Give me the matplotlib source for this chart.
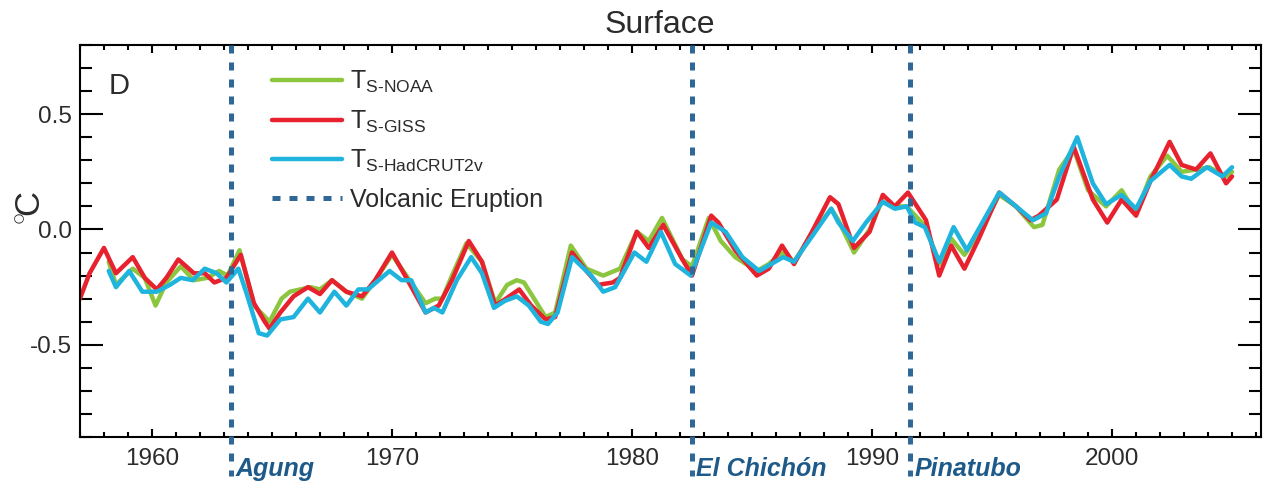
import matplotlib
matplotlib.use("Agg")
import matplotlib.pyplot as plt
from matplotlib.ticker import MultipleLocator

plt.rcParams["font.family"] = ["Liberation Sans", "DejaVu Sans"]
plt.rcParams["mathtext.fontset"] = "custom"
plt.rcParams["mathtext.rm"] = "Liberation Sans"
plt.rcParams["mathtext.it"] = "Liberation Sans:italic"
plt.rcParams["mathtext.bf"] = "Liberation Sans:bold"

# Surface temperature anomalies (deg C)
giss_year = [1957.0, 1957.4, 1958.0, 1958.5, 1959.2, 1959.7, 1960.2, 1960.6, 1961.1, 1961.75,
             1962.2, 1962.6, 1963.1, 1963.7, 1964.25, 1964.7, 1964.9, 1965.35, 1965.9, 1966.5,
             1967.0, 1967.5, 1968.1, 1968.75, 1969.3, 1970.0, 1970.6, 1971.4, 1971.95, 1972.5,
             1973.2, 1973.75, 1974.3, 1974.75, 1975.3, 1975.8, 1976.4, 1976.8, 1977.5, 1978.1,
             1978.6, 1979.2, 1979.5, 1980.2, 1980.7, 1981.3, 1982.1, 1982.5, 1983.3, 1983.6,
             1984.3, 1985.2, 1985.7, 1986.25, 1986.75, 1987.5, 1988.25, 1988.6, 1989.25, 1989.9,
             1990.45, 1990.95, 1991.5, 1992.25, 1992.8, 1993.3, 1993.85, 1994.45, 1995.3, 1996.0,
             1996.6, 1996.95, 1997.7, 1998.4, 1999.2, 1999.8, 2000.4, 2001.0, 2001.6, 2002.4,
             2002.9, 2003.5, 2004.1, 2004.75, 2005.0]
giss_temp = [-0.30, -0.19, -0.08, -0.19, -0.12, -0.21, -0.26, -0.21, -0.13, -0.19,
             -0.19, -0.23, -0.21, -0.11, -0.32, -0.40, -0.43, -0.36, -0.29, -0.25,
             -0.28, -0.22, -0.27, -0.29, -0.22, -0.10, -0.21, -0.36, -0.33, -0.22,
             -0.05, -0.14, -0.33, -0.30, -0.26, -0.33, -0.39, -0.38, -0.10, -0.18,
             -0.24, -0.23, -0.21, -0.01, -0.08, 0.02, -0.13, -0.20, 0.06, 0.03,
             -0.09, -0.20, -0.17, -0.07, -0.15, -0.01, 0.14, 0.11, -0.08, -0.01,
             0.15, 0.10, 0.16, 0.04, -0.20, -0.07, -0.17, -0.04, 0.16, 0.10,
             0.04, 0.06, 0.13, 0.36, 0.13, 0.03, 0.13, 0.06, 0.21, 0.38,
             0.28, 0.26, 0.33, 0.20, 0.23]

noaa_year = [1958.2, 1958.5, 1959.2, 1959.7, 1960.15, 1960.6, 1961.2, 1961.75, 1962.3, 1962.8,
             1963.15, 1963.65, 1964.25, 1964.9, 1965.4, 1965.75, 1966.6, 1967.0, 1967.5, 1968.1,
             1968.75, 1969.3, 1970.0, 1970.6, 1971.4, 1971.8, 1972.1, 1972.5, 1973.1, 1973.75,
             1974.3, 1974.8, 1975.2, 1975.5, 1976.4, 1976.8, 1977.45, 1978.1, 1978.8, 1979.5,
             1980.2, 1980.7, 1981.25, 1982.1, 1982.5, 1983.2, 1983.7, 1984.3, 1985.2, 1985.7,
             1986.25, 1986.75, 1987.5, 1988.3, 1988.6, 1989.25, 1989.9, 1990.4, 1990.9, 1991.45,
             1992.25, 1992.8, 1993.3, 1993.85, 1994.45, 1995.3, 1996.0, 1996.75, 1997.1, 1997.8,
             1998.4, 1999.0, 1999.75, 2000.4, 2001.0, 2001.6, 2002.3, 2002.9, 2003.5, 2004.05,
             2004.75, 2005.0]
noaa_temp = [-0.14, -0.24, -0.17, -0.21, -0.33, -0.23, -0.16, -0.22, -0.21, -0.18,
             -0.20, -0.09, -0.33, -0.40, -0.30, -0.27, -0.25, -0.26, -0.22, -0.27,
             -0.30, -0.22, -0.11, -0.20, -0.32, -0.30, -0.30, -0.20, -0.06, -0.14,
             -0.32, -0.24, -0.22, -0.23, -0.38, -0.36, -0.07, -0.17, -0.20, -0.17,
             -0.01, -0.05, 0.05, -0.13, -0.16, 0.05, -0.05, -0.12, -0.18, -0.15,
             -0.10, -0.14, -0.02, 0.09, 0.04, -0.10, 0.00, 0.12, 0.10, 0.10,
             0.01, -0.15, -0.04, -0.11, -0.02, 0.15, 0.10, 0.01, 0.02, 0.26,
             0.35, 0.17, 0.10, 0.17, 0.07, 0.23, 0.32, 0.25, 0.26, 0.27,
             0.23, 0.25]

hadcrut_year = [1958.2, 1958.5, 1959.05, 1959.6, 1960.2, 1960.75, 1961.2, 1961.7, 1962.2, 1962.7,
                1963.1, 1963.6, 1963.95, 1964.45, 1964.8, 1965.35, 1965.9, 1966.5, 1967.0, 1967.6,
                1968.1, 1968.6, 1969.0, 1969.9, 1970.4, 1970.8, 1971.4, 1971.75, 1972.1, 1972.7,
                1973.3, 1973.75, 1974.25, 1974.7, 1975.2, 1975.7, 1976.2, 1976.5, 1976.9, 1977.5,
                1978.3, 1978.8, 1979.3, 1980.1, 1980.6, 1981.2, 1981.8, 1982.45, 1983.3, 1983.9,
                1984.6, 1985.3, 1985.8, 1986.3, 1986.75, 1987.5, 1988.3, 1988.6, 1989.2, 1989.75,
                1990.45, 1990.95, 1991.45, 1991.8, 1992.2, 1992.8, 1993.4, 1993.95, 1995.3, 1996.0,
                1996.7, 1997.25, 1997.8, 1998.55, 1999.2, 1999.75, 2000.4, 2001.0, 2001.6, 2002.4,
                2002.9, 2003.3, 2003.95, 2004.6, 2005.0]
hadcrut_temp = [-0.18, -0.25, -0.18, -0.27, -0.27, -0.24, -0.21, -0.22, -0.17, -0.19,
                -0.23, -0.17, -0.28, -0.45, -0.46, -0.39, -0.38, -0.30, -0.36, -0.27,
                -0.33, -0.26, -0.26, -0.18, -0.22, -0.22, -0.36, -0.34, -0.36, -0.22,
                -0.12, -0.19, -0.34, -0.31, -0.29, -0.33, -0.40, -0.41, -0.36, -0.12,
                -0.20, -0.27, -0.25, -0.10, -0.14, -0.01, -0.15, -0.20, 0.03, -0.01,
                -0.12, -0.18, -0.15, -0.12, -0.14, -0.03, 0.09, 0.03, -0.05, 0.03,
                0.12, 0.09, 0.10, 0.03, 0.01, -0.14, 0.01, -0.09, 0.16, 0.10,
                0.04, 0.07, 0.23, 0.40, 0.20, 0.11, 0.15, 0.09, 0.21, 0.28,
                0.23, 0.22, 0.27, 0.23, 0.27]

volcano_names = ["Agung", "El Chichón", "Pinatubo"]
volcano_years = [1963.3, 1982.5, 1991.6]

GREEN = "#8cc63f"
RED = "#e8212e"
CYAN = "#1fb4de"
VOLC = "#2f6796"
TEXT = "#2b2b2b"

fig = plt.figure(figsize=(12.63, 4.82), dpi=100)
ax = fig.add_axes([0.0633, 0.0934, 0.935, 0.8132])

line_kw = dict(lw=3.2, solid_joinstyle="round", solid_capstyle="round")
ax.plot(noaa_year, noaa_temp, color=GREEN, label=r"T$_{\mathregular{S‐NOAA}}$", **line_kw)
ax.plot(giss_year, giss_temp, color=RED, label=r"T$_{\mathregular{S‐GISS}}$", **line_kw)
ax.plot(hadcrut_year, hadcrut_temp, color=CYAN,
        label=r"T$_{\mathregular{S‐HadCRUT2v}}$", **line_kw)

xt = ax.get_xaxis_transform()
for i, (name, yr) in enumerate(zip(volcano_names, volcano_years)):
    ax.plot([yr, yr], [1.0, -0.1], transform=xt, clip_on=False, color=VOLC, lw=3.6,
            dashes=(1.6, 1.8), dash_capstyle="butt",
            label="Volcanic Eruption" if i == 0 else None, zorder=4)
    ax.text(yr + 0.17, -0.05, name, transform=xt, ha="left", va="top", fontsize=18,
            fontweight="bold", style="italic", color="#1d5a8a")

ax.set_xlim(1957, 2006.2)
ax.set_ylim(-0.9, 0.8)
ax.xaxis.set_major_locator(MultipleLocator(10))
ax.xaxis.set_minor_locator(MultipleLocator(1))
ax.yaxis.set_major_locator(MultipleLocator(0.5))
ax.yaxis.set_minor_locator(MultipleLocator(0.1))
ax.yaxis.set_major_formatter(plt.FuncFormatter(lambda v, p: f"{v:.1f}"))

ax.tick_params(axis="both", which="both", direction="in", top=True, right=True,
               width=1.5, colors="black", labelcolor=TEXT, labelsize=17.5)
ax.tick_params(axis="y", which="major", length=16.5, pad=6)
ax.tick_params(axis="y", which="minor", length=8.5)
ax.tick_params(axis="x", which="major", length=6, pad=8)
ax.tick_params(axis="x", which="minor", length=3.5)
for s in ax.spines.values():
    s.set_linewidth(1.5)

ax.set_title("Surface", fontsize=23, color=TEXT, pad=9, x=0.491)
ax.text(-0.041, 0.584, r"$^{\circ}\!$C", transform=ax.transAxes, rotation=90, ha="center",
        va="center", fontsize=25, color=TEXT)
ax.text(0.024, 0.93, "D", transform=ax.transAxes, ha="left", va="top", fontsize=21,
        color=TEXT)

leg = ax.legend(loc="upper left", bbox_to_anchor=(0.1433, 0.997), frameon=False,
                fontsize=18, handlelength=2.8, handletextpad=0.32, labelspacing=0.54)
for t in leg.get_texts():
    t.set_color(TEXT)

fig.savefig("out.png", dpi=100)
